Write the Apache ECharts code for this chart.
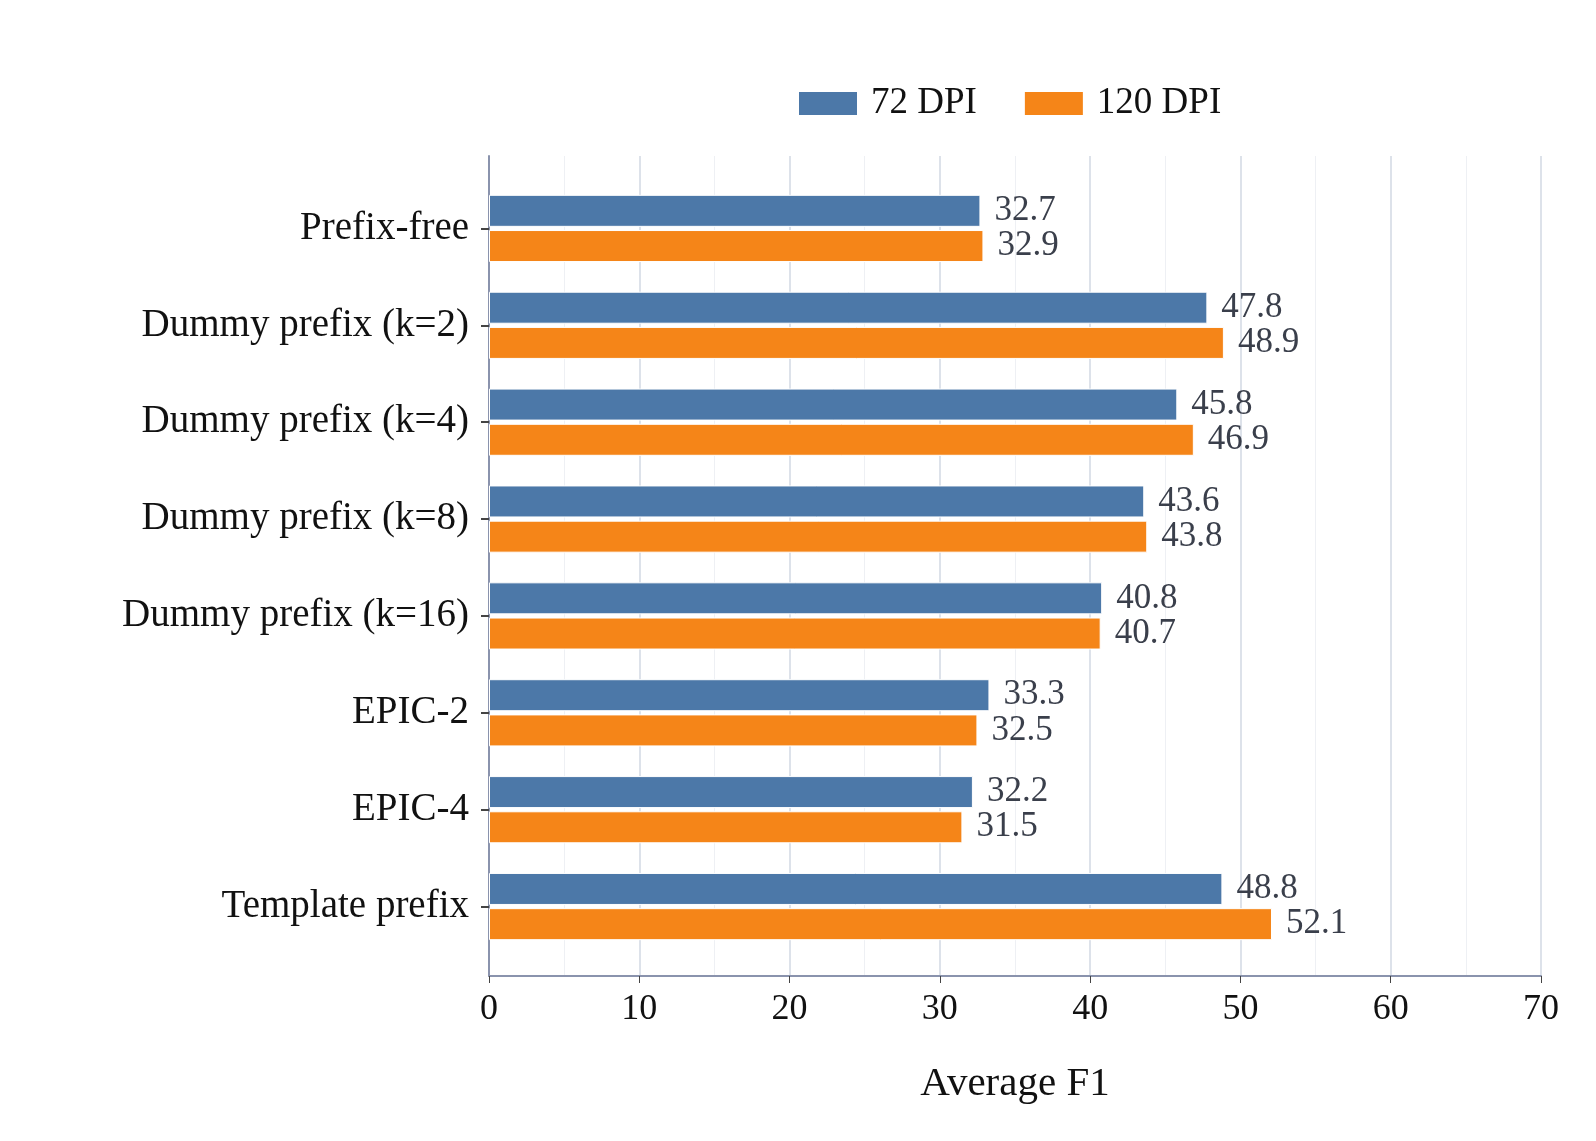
<!DOCTYPE html>
<html>
<head>
<meta charset="utf-8">
<script src="https://cdn.jsdelivr.net/npm/echarts@6/dist/echarts.min.js"></script>
<style>body{margin:0;background:#fff}#c{width:1596px;height:1141px}</style>
</head>
<body>
<div id="c"></div>
<script>
var categories = ['Prefix-free', 'Dummy prefix (k=2)', 'Dummy prefix (k=4)', 'Dummy prefix (k=8)', 'Dummy prefix (k=16)', 'EPIC-2', 'EPIC-4', 'Template prefix'];
var dpi72 = [32.7, 47.8, 45.8, 43.6, 40.8, 33.3, 32.2, 48.8];
var dpi120 = [32.9, 48.9, 46.9, 43.8, 40.7, 32.5, 31.5, 52.1];
var xTicks = [0, 10, 20, 30, 40, 50, 60, 70];

var font = 'Liberation Serif';
var chart = echarts.init(document.getElementById('c'));

// 数值标签
var lbl = {show: true, position: 'right', distance: 14, fontFamily: font, fontSize: 35, color: '#3a3f4b',
	formatter: function(p){ return p.value.toFixed(1); }};

chart.setOption({
	textStyle: {fontFamily: font},
	legend: {
		top: 80, left: 792, itemWidth: 60, itemHeight: 25, itemGap: 46,
		textStyle: {fontFamily: font, fontSize: 37, color: '#111', padding: [0, 0, 0, 8]},
		data: [{name: '72 DPI', icon: 'rect'}, {name: '120 DPI', icon: 'rect'}]
	},
	grid: [
		{left: 489, width: 1052, top: 156, height: 820},
		{left: 489, width: 1052, top: 180, height: 775}
	],
	xAxis: [
		{gridIndex: 0, type: 'value', min: 0, max: 70, interval: 10,
			name: 'Average F1', nameLocation: 'middle', nameGap: 88,
			nameTextStyle: {fontFamily: font, fontSize: 41, color: '#111'},
			axisLine: {show: true, lineStyle: {color: '#8a93ad', width: 2}},
			axisTick: {show: true, length: 7, lineStyle: {color: '#444'}},
			axisLabel: {fontFamily: font, fontSize: 36, color: '#111', margin: 16,
				formatter: function(v){ return xTicks.indexOf(v) >= 0 ? v : ''; }},
			splitLine: {show: true, lineStyle: {color: '#dde2ea', width: 2}},
			minorTick: {show: false, splitNumber: 2},
			minorSplitLine: {show: true, lineStyle: {color: '#eef0f4', width: 1}}
		},
		{gridIndex: 1, type: 'value', min: 0, max: 70, show: false}
	],
	yAxis: [
		{gridIndex: 0, type: 'value', show: true, axisLabel: {show: false}, splitLine: {show: false},
			axisLine: {show: true, lineStyle: {color: '#8a93ad', width: 2}}, axisTick: {show: false}},
		{gridIndex: 1, type: 'category', inverse: true, data: categories,
			axisLine: {show: false},
			axisTick: {show: true, alignWithLabel: true, length: 8, lineStyle: {color: '#444', width: 2}},
			axisLabel: {fontFamily: font, fontSize: 39, color: '#111', margin: 20}
		}
	],
	series: [
		{name: '72 DPI', type: 'bar', xAxisIndex: 1, yAxisIndex: 1, data: dpi72, barWidth: 32, barGap: '10%',
			itemStyle: {color: '#4c78a8', borderColor: '#fff', borderWidth: 1}, label: lbl},
		{name: '120 DPI', type: 'bar', xAxisIndex: 1, yAxisIndex: 1, data: dpi120, barWidth: 32,
			itemStyle: {color: '#f58518', borderColor: '#fff', borderWidth: 1}, label: lbl}
	]
});
</script>
</body>
</html>
